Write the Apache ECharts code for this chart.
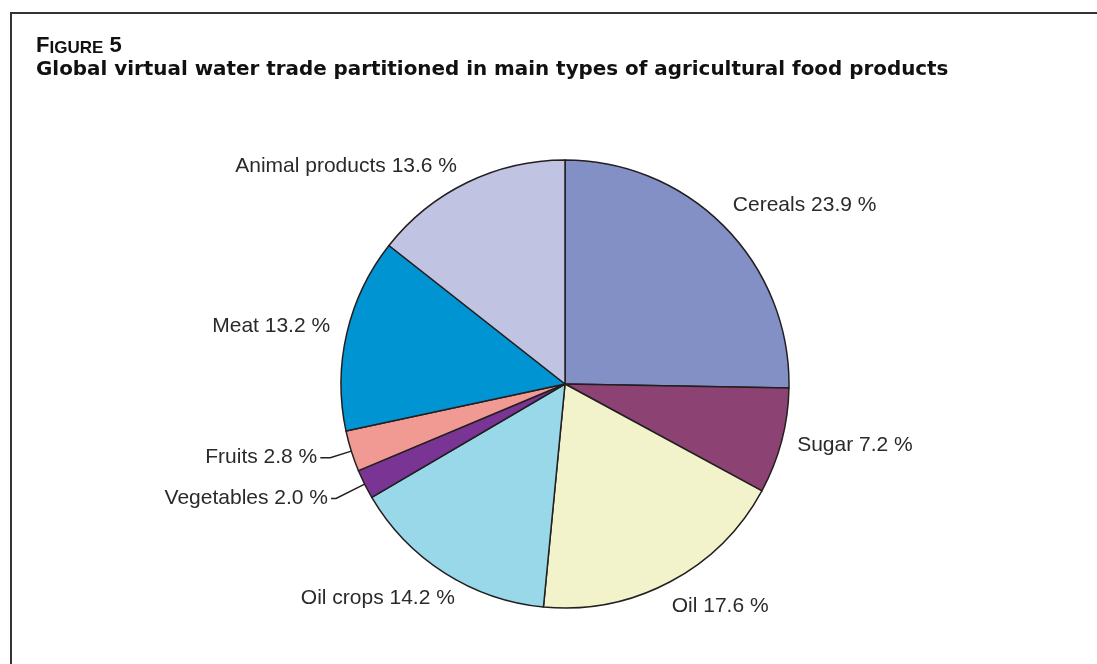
<!DOCTYPE html>
<html>
<head>
<meta charset="utf-8">
<script src="https://cdn.jsdelivr.net/npm/echarts@6/dist/echarts.min.js"></script>
<style>
html,body{margin:0;padding:0;background:#fff;}
#chart{width:1097px;height:664px;}
</style>
</head>
<body>
<div id="chart"></div>
<script>
const categories = ['Cereals', 'Sugar', 'Oil', 'Oil crops', 'Vegetables', 'Fruits', 'Meat', 'Animal products'];
const shares = [23.9, 7.2, 17.6, 14.2, 2.0, 2.8, 13.2, 13.6];
const colors = ['#8290C6', '#8C4272', '#F3F3CB', '#98D8E8', '#7A3594', '#F19A94', '#0094D3', '#C0C3E2'];
const figureLabel = 'Figure 5';
const figureTitle = 'Global virtual water trade partitioned in main types of agricultural food products';

// label layout tweaks (kept apart from the data)
const leaderLines = {
  'Vegetables': {length: 32, length2: 5},
  'Fruits': {length: 22, length2: 10}
};
const labelNudge = {
  'Cereals': [-5, -12],
  'Sugar': [-1, 1],
  'Oil': [-8, 12],
  'Oil crops': [21, 14],
  'Meat': [0, -4],
  'Animal products': [-1, -4]
};

const chart = echarts.init(document.getElementById('chart'), null, {renderer: 'canvas'});

const data = categories.map((name, i) => {
  const item = {name: name, value: shares[i], itemStyle: {color: colors[i]}};
  if (leaderLines[name]) {
    item.labelLine = {show: true, length: leaderLines[name].length, length2: leaderLines[name].length2,
      smooth: false, lineStyle: {color: '#231f20', width: 1.5}};
  }
  return item;
});

const FONT = 'Liberation Sans, Arial, sans-serif';
const figWord = figureLabel.split(' ');
const option = {
  animation: false,
  backgroundColor: '#ffffff',
  title: [
    {
      left: 36, top: 35, padding: 0,
      text: '{big|' + figWord[0].charAt(0).toUpperCase() + '}{small|' + figWord[0].slice(1).toUpperCase() + '}{big| ' + figWord[1] + '}',
      textStyle: {
        rich: {
          big: {fontSize: 22, fontWeight: 'bold', fontFamily: FONT, color: '#111', verticalAlign: 'bottom', lineHeight: 22},
          small: {fontSize: 17, fontWeight: 'bold', fontFamily: FONT, color: '#111', verticalAlign: 'bottom', lineHeight: 17}
        }
      }
    },
    {
      left: 36, top: 58, padding: 0,
      text: figureTitle,
      textStyle: {fontSize: 19.9, lineHeight: 24, fontWeight: 'bold', fontFamily: 'DejaVu Sans, sans-serif', color: '#111'}
    }
  ],
  graphic: [
    {type: 'rect', shape: {x: 11, y: 13, width: 1200, height: 800},
     style: {fill: 'none', stroke: '#333', lineWidth: 2}, silent: true}
  ],
  series: [{
    type: 'pie',
    center: [565, 384],
    radius: 224,
    startAngle: 90,
    clockwise: true,
    avoidLabelOverlap: false,
    minShowLabelAngle: 0,
    itemStyle: {borderColor: '#231f20', borderWidth: 1.5},
    emphasis: {disabled: true},
    label: {
      show: true, position: 'outside',
      fontSize: 21, color: '#2a2a2a',
      fontFamily: FONT,
      distanceToLabelLine: 3,
      formatter: p => p.name + ' ' + p.value.toFixed(1) + ' %'
    },
    labelLine: {show: false, length: 14, length2: 0},
    labelLayout: p => {
      const n = labelNudge[categories[p.dataIndex]];
      return n ? {dx: n[0], dy: n[1]} : {};
    },
    data: data
  }]
};
chart.setOption(option);
</script>
</body>
</html>
